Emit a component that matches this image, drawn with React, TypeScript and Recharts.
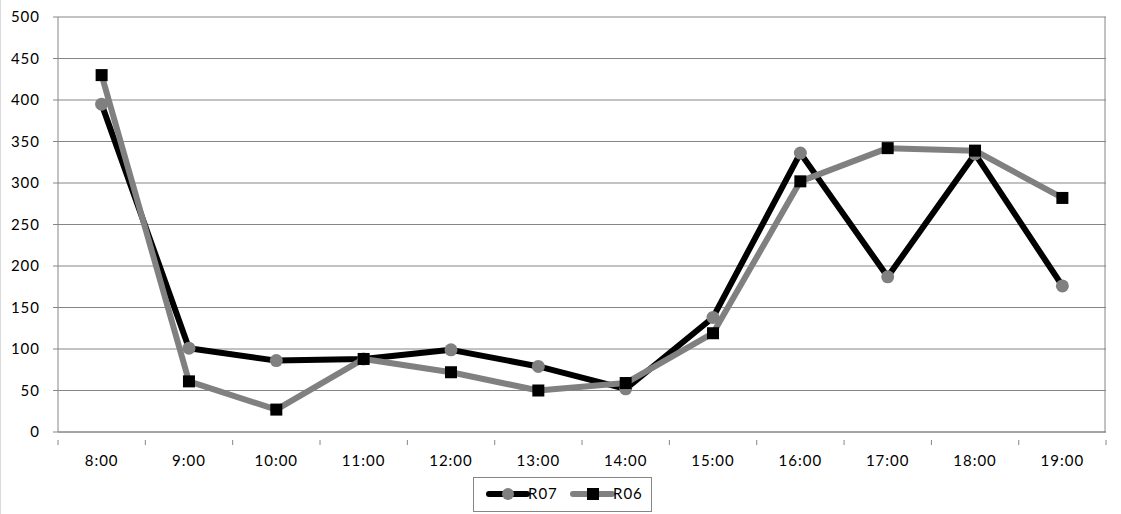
import React from "react";
import { LineChart, Line, XAxis, YAxis, CartesianGrid } from "recharts";

const hours = ["8:00", "9:00", "10:00", "11:00", "12:00", "13:00", "14:00", "15:00", "16:00", "17:00", "18:00", "19:00"];
const r07 = [395, 101, 86, 88, 99, 79, 52, 138, 336, 187, 335, 176];
const r06 = [430, 61, 27, 88, 72, 50, 59, 119, 302, 342, 339, 282];
const yTicks = [0, 50, 100, 150, 200, 250, 300, 350, 400, 450, 500];

const data = hours.map((hour, i) => ({ hour, R07: r07[i], R06: r06[i] }));

const W = 1121;
const H = 514;
const PLOT_LEFT = 58;
const PLOT_RIGHT = 1105;
const BAND = (PLOT_RIGHT - PLOT_LEFT) / hours.length;
const AXIS = "#868686";
const GRAY = "#808080";
const FONT = "Lato, 'Open Sans', sans-serif";

function HourTick(props: any) {
  const { x, y, payload, index } = props;
  const left = x - BAND / 2;
  const right = x + BAND / 2;
  return (
    <g>
      <line x1={left} y1={y} x2={left} y2={y + 5} stroke={AXIS} strokeWidth={1} />
      {index === hours.length - 1 && (
        <line x1={right} y1={y} x2={right} y2={y + 5} stroke={AXIS} strokeWidth={1} />
      )}
      <text
        x={x}
        y={y + 26}
        textAnchor="middle"
        fontSize={15}
        letterSpacing={1}
        fill="#000"
        fontFamily={FONT}
      >
        {payload.value}
      </text>
    </g>
  );
}

function RoundDot(props: any) {
  const { cx, cy, index } = props;
  if (cx == null || cy == null) return null;
  return <circle key={`c${index}`} cx={cx} cy={cy} r={6.5} fill={GRAY} />;
}

function SquareDot(props: any) {
  const { cx, cy, index } = props;
  if (cx == null || cy == null) return null;
  return <rect key={`s${index}`} x={cx - 6} y={cy - 6} width={12} height={12} fill="#000" />;
}

export default function App() {
  return (
    <div
      style={{
        position: "absolute",
        left: 0,
        top: 0,
        width: W,
        height: H,
        background: "#fff",
        borderLeft: "1px solid #d9d9d9",
        boxSizing: "border-box",
        fontFamily: FONT,
      }}
    >
      <LineChart
        width={W - 1}
        height={H}
        data={data}
        margin={{ top: 17, right: W - 1 - PLOT_RIGHT, bottom: 52, left: 0 }}
      >
        <CartesianGrid
          stroke={AXIS}
          strokeWidth={1}
          verticalPoints={[PLOT_RIGHT - 1]}
        />
        <XAxis
          dataKey="hour"
          height={30}
          stroke={AXIS}
          tickLine={false}
          tick={<HourTick />}
          interval={0}
          padding={{ left: BAND / 2, right: BAND / 2 }}
        />
        <YAxis
          width={PLOT_LEFT - 1}
          domain={[0, 500]}
          ticks={yTicks}
          interval={0}
          stroke={AXIS}
          tickSize={5}
          tickMargin={13}
          tick={{ fontSize: 15, letterSpacing: 1, fill: "#000", fontFamily: FONT }}
        />
        <Line
          dataKey="R07"
          stroke="#000"
          strokeWidth={6}
          strokeLinejoin="round"
          dot={<RoundDot />}
          activeDot={false}
          isAnimationActive={false}
        />
        <Line
          dataKey="R06"
          stroke={GRAY}
          strokeWidth={6}
          strokeLinejoin="round"
          dot={<SquareDot />}
          activeDot={false}
          isAnimationActive={false}
        />
      </LineChart>
      <svg
        width={179}
        height={35}
        style={{ position: "absolute", left: 472, top: 477 }}
      >
        <rect x={0.5} y={0.5} width={178} height={34} fill="#fff" stroke={AXIS} />
        <line x1={16} y1={17} x2={54} y2={17} stroke="#000" strokeWidth={6} strokeLinecap="round" />
        <circle cx={35} cy={17} r={6} fill={GRAY} />
        <text x={55} y={22} fontSize={15} letterSpacing={1} fontFamily={FONT} fill="#000">R07</text>
        <line x1={100} y1={17} x2={139} y2={17} stroke={GRAY} strokeWidth={6} strokeLinecap="round" />
        <rect x={114} y={11} width={12} height={12} fill="#000" />
        <text x={140} y={22} fontSize={15} letterSpacing={1} fontFamily={FONT} fill="#000">R06</text>
      </svg>
    </div>
  );
}
